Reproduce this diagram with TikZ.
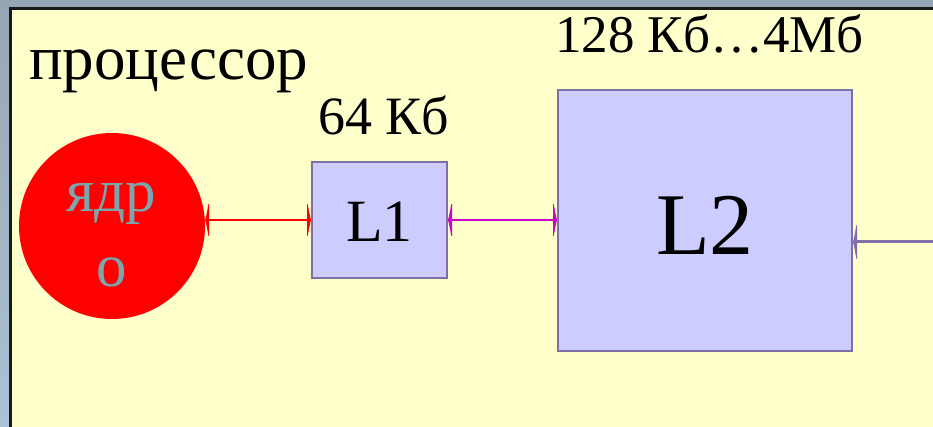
\documentclass[tikz,border=0pt]{standalone}
\usepackage{fontspec}
\setmainfont{Liberation Serif}
\usetikzlibrary{arrows.meta,calc}
\definecolor{panel}{HTML}{FFFFCC}
\definecolor{boxfill}{HTML}{CCCCFF}
\definecolor{boxline}{HTML}{7F6FA8}
\definecolor{coretext}{HTML}{7AA6AE}
\definecolor{mag}{HTML}{CC00CC}
\tikzset{
  cachebox/.style={draw=boxline, line width=2pt, fill=boxfill, inner sep=0pt, anchor=north west},
  lbl/.style={inner sep=0pt, anchor=base west, text=black},
  spike/.style={-{Latex[length=4pt,width=48pt]}},
  bispike/.style={{Latex[length=4pt,width=46pt]}-{Latex[length=4pt,width=46pt]}},
}
\begin{document}
\begin{tikzpicture}[x=1pt,y=-1pt]
\useasboundingbox (0,0) rectangle (933,427);
\shade[top color={rgb,255:red,150;green,166;blue,180}, bottom color={rgb,255:red,172;green,194;blue,212}] (0,0) rectangle (933,427);
\fill[panel] (11,9) rectangle (933,427);
\draw[line width=3pt, black!90] (10.5,427) -- (10.5,8.5) -- (933,8.5);
% texts
\node[lbl, font=\fontsize{63}{70}\selectfont] (proc) at (29,80) {процессор};
\node[lbl, font=\fontsize{54}{60}\selectfont] (s1) at (318,135) {64 Кб};
\node[lbl, font=\fontsize{53}{60}\selectfont] (s2) at (555,53) {128 Кб…4Мб};
% core
\node[circle, fill=red, minimum size=186pt, inner sep=0pt] (core) at (112,226) {};
\node[inner sep=0pt, anchor=base, text=coretext, font=\fontsize{61}{75}\selectfont] (c1) at (111,212) {ядр};
\node[inner sep=0pt, anchor=base, text=coretext, font=\fontsize{61}{75}\selectfont] (c2) at (112,287) {о};
% caches
\node[cachebox, minimum width=135pt, minimum height=116pt] (L1) at (311,161) {};
\node[font=\fontsize{60}{66}\selectfont, inner sep=0pt, anchor=base] (L1t) at (L1.center |- 0,242) {L1};
\node[cachebox, minimum width=294pt, minimum height=261pt] (L2) at (557,89) {};
\node[font=\fontsize{88}{96}\selectfont, inner sep=0pt, anchor=base] (L2t) at (L2.center |- 0,255) {L2};
% connectors
\coordinate (rightend) at (933,242);
\draw[bispike, red, line width=2.2pt] (core.east |- L1.west) -- (L1.west);
\draw[bispike, mag, line width=2.2pt] (L1.east) -- (L1.east -| L2.west);
\draw[spike, boxline, line width=3pt] (rightend) -- (rightend -| L2.east);
\end{tikzpicture}
\end{document}
